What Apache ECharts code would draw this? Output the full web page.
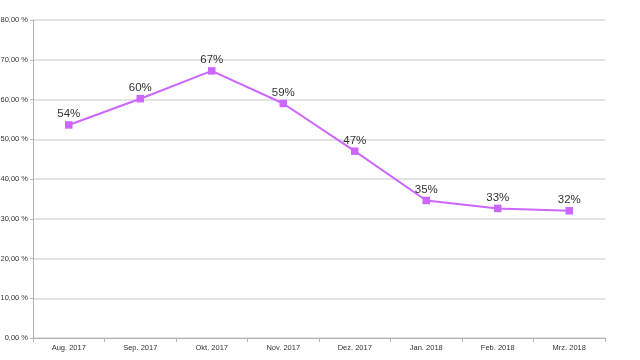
<!DOCTYPE html>
<html><head><meta charset="utf-8">
<script src="https://cdn.jsdelivr.net/npm/echarts@6/dist/echarts.min.js"></script>
<style>html,body{margin:0;padding:0;background:#fff}#c{width:640px;height:360px}</style>
</head><body><div id="c"></div>
<script>
var categories = ['Aug. 2017','Sep. 2017','Okt. 2017','Nov. 2017','Dez. 2017','Jan. 2018','Feb. 2018','Mrz. 2018'];
var values = [53.6, 60.2, 67.2, 59.0, 47.0, 34.6, 32.6, 32.0];
var chart = echarts.init(document.getElementById('c'));
chart.setOption({
  animation: false,
  grid: {left: 33, right: 35, top: 20, bottom: 22, containLabel: false, outerBoundsMode: 'none'},
  xAxis: {
    type: 'category', data: categories, boundaryGap: true,
    axisLine: {lineStyle: {color: '#b3b3b3', width: 1}},
    axisTick: {show: true, length: 4, lineStyle: {color: '#b3b3b3'}},
    axisLabel: {color: '#333', fontSize: 7.5, fontFamily: 'Liberation Sans', margin: 6}
  },
  yAxis: {
    type: 'value', min: 0, max: 80, interval: 10,
    axisLine: {show: true, lineStyle: {color: '#b3b3b3'}},
    axisTick: {show: true, length: 3, lineStyle: {color: '#b3b3b3'}},
    splitLine: {lineStyle: {color: '#dadada', width: 1.6}},
    axisLabel: {color: '#333', fontSize: 7.5, fontFamily: 'Liberation Sans', margin: 5,
      formatter: function(v){ return v.toFixed(2).replace('.', ',') + ' %'; }}
  },
  series: [{
    type: 'line', data: values,
    symbol: 'rect', symbolSize: 7.5,
    lineStyle: {color: '#cc66ff', width: 2},
    itemStyle: {color: '#cc66ff'},
    label: {show: true, position: 'top', distance: 1, color: '#333', fontSize: 11.5, fontFamily: 'Liberation Sans',
      formatter: function(p){ return Math.round(p.value) + '%'; }}
  }]
});
</script></body></html>
